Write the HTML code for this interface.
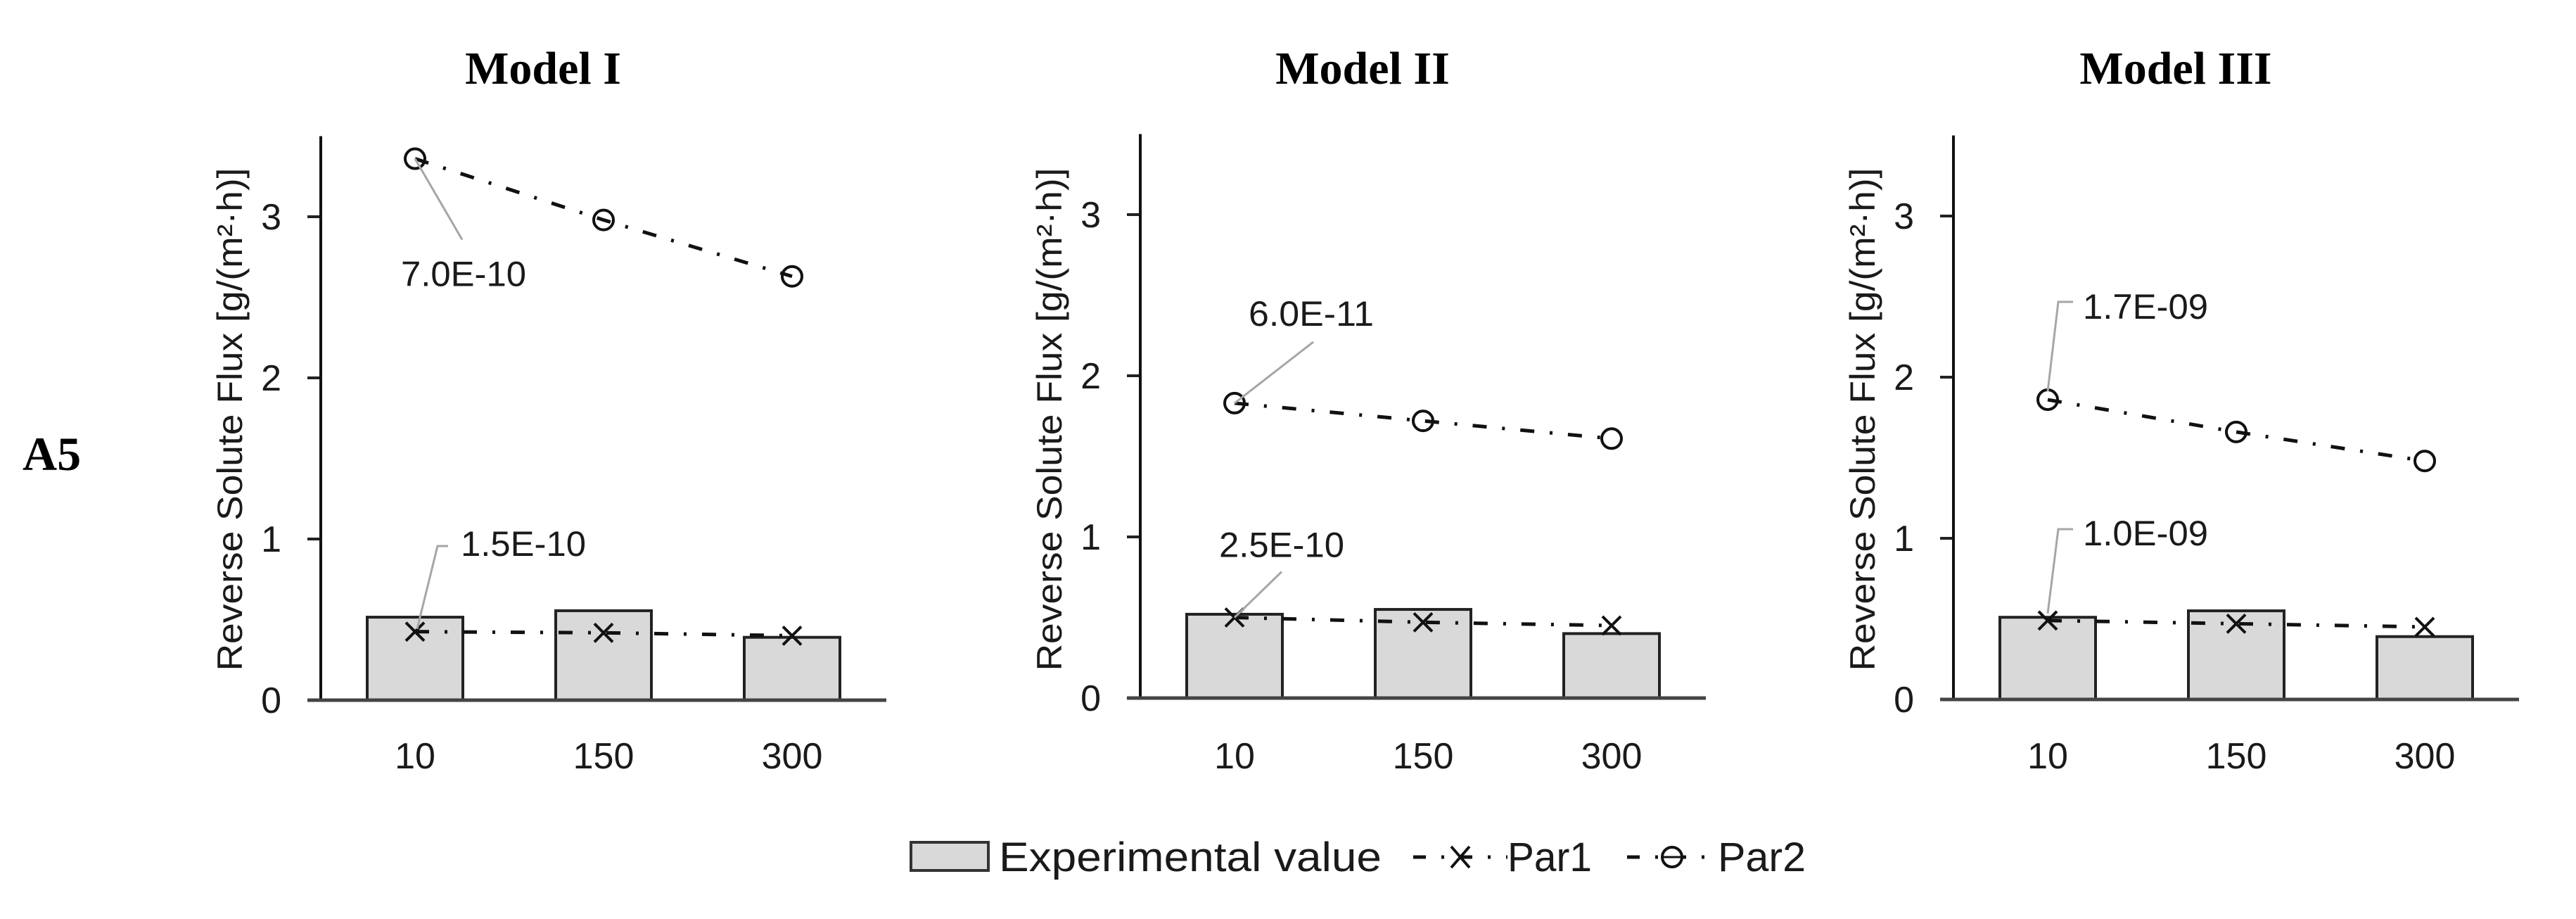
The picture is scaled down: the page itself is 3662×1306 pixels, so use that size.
<!DOCTYPE html>
<html><head><meta charset="utf-8">
<style>
html,body{margin:0;padding:0;background:#fff;}
svg{display:block;}
text{font-family:"Liberation Sans",sans-serif;fill:#1a1a1a;}
.serif{font-family:"Liberation Serif",serif;font-weight:bold;fill:#000;}
</style></head>
<body>
<svg id="chart" width="3662" height="1306" viewBox="0 0 3662 1306" xmlns="http://www.w3.org/2000/svg">
  <text class="serif" x="32" y="668" font-size="68">A5</text>
  <g id="panels"></g>
  <g>
    <rect x="1295" y="1197" width="110" height="40" fill="#d9d9d9" stroke="#333" stroke-width="4"/>
    <text x="1420" y="1238" font-size="58" textLength="544" lengthAdjust="spacingAndGlyphs">Experimental value</text>
    <line x1="2009" y1="1218" x2="2143" y2="1218" stroke="#111" stroke-width="5" stroke-dasharray="18,22,4,22"/>
    <path d="M2063,1203 L2089,1233 M2089,1203 L2063,1233" stroke="#111" stroke-width="4"/>
    <text x="2143" y="1238" font-size="58" textLength="120" lengthAdjust="spacingAndGlyphs">Par1</text>
    <line x1="2313" y1="1218" x2="2442" y2="1218" stroke="#111" stroke-width="5" stroke-dasharray="18,22,4,22"/>
    <circle cx="2377" cy="1218" r="14" fill="#fff" stroke="#111" stroke-width="4"/>
    <line x1="2363" y1="1218" x2="2391" y2="1218" stroke="#111" stroke-width="3"/>
    <text x="2442" y="1238" font-size="58" textLength="125" lengthAdjust="spacingAndGlyphs">Par2</text>
  </g>
</svg>
<script>
const categories = ["10", "150", "300"];
const yTicks = [0, 1, 2, 3];
const modelTitles = ["Model I", "Model II", "Model III"];
const expValues = [[0.515, 0.555, 0.39], [0.52, 0.55, 0.40], [0.51, 0.55, 0.39]];
const par1Values = [[0.425, 0.418, 0.40], [0.50, 0.47, 0.45], [0.49, 0.47, 0.45]];
const par2Values = [[3.36, 2.98, 2.63], [1.83, 1.72, 1.61], [1.86, 1.66, 1.48]];
const par1Labels = ["1.5E-10", "2.5E-10", "1.0E-09"];
const par2Labels = ["7.0E-10", "6.0E-11", "1.7E-09"];

const NS = "http://www.w3.org/2000/svg";
const root = document.getElementById("panels");
const axisXs = [456, 1621, 2777];
const baseYs = [995, 992, 994];
const unit = 229, yMax = 3.5, catStep = 268, catOff = 134, barW = 136, axisLen = 804;

function mk(tag, attrs, parent, txt) {
  const e = document.createElementNS(NS, tag);
  for (const k in attrs) e.setAttribute(k, attrs[k]);
  if (txt !== undefined) e.textContent = txt;
  parent.appendChild(e);
  return e;
}

for (let p = 0; p < 3; p++) {
  const ax = axisXs[p], by = baseYs[p];
  const y = v => by - v * unit;
  const x = i => ax + catOff + i * catStep;
  const g = mk("g", {}, root);
  
  

  const t = mk("text", {x: ax + 316, y: 119, "font-size": 66, "text-anchor": "middle", class: "serif"}, g, modelTitles[p]);
  
  

  const yl = mk("text", {x: 0, y: 0, "font-size": 50, "text-anchor": "middle", transform: `translate(${ax - 112},${596}) rotate(-90)`, textLength: 715, lengthAdjust: "spacingAndGlyphs"}, g, "Reverse Solute Flux [g/(m²·h)]");
  
  

  yTicks.forEach(v => {
    const tl = mk("line", {x1: ax - 19, y1: y(v), x2: ax, y2: y(v), stroke: "#222", "stroke-width": 4}, g);
    
    
    const tx = mk("text", {x: ax - 56, y: y(v) + 18, "font-size": 52, "text-anchor": "end"}, g, String(v));
    
    
  });

  categories.forEach((c, i) => {
    const b = mk("rect", {x: x(i) - barW / 2, y: y(expValues[p][i]), width: barW, height: expValues[p][i] * unit, fill: "#d9d9d9", stroke: "#222", "stroke-width": 4}, g);
    
    
    const xl = mk("text", {x: x(i), y: 1092, "font-size": 52, "text-anchor": "middle"}, g, c);
    
    
  });

  const ya = mk("line", {x1: ax, y1: by - yMax * unit, x2: ax, y2: by, stroke: "#111", "stroke-width": 4}, g);
  
  
  const xa = mk("line", {x1: ax - 19, y1: by, x2: ax + axisLen, y2: by, stroke: "#444", "stroke-width": 5}, g);
  
  

  [par1Values[p], par2Values[p]].forEach((vals, s) => {
    const pts = vals.map((v, i) => x(i) + "," + y(v)).join(" ");
    const pl = mk("polyline", {points: pts, fill: "none", stroke: "#111", "stroke-width": 5, "stroke-dasharray": "20,22,4,22"}, g);
    
    
    vals.forEach((v, i) => {
      let m;
      if (s === 0) {
        const cx = x(i), cy = y(v);
        m = mk("path", {d: `M${cx-13},${cy-13}L${cx+13},${cy+13}M${cx+13},${cy-13}L${cx-13},${cy+13}`, stroke: "#111", "stroke-width": 4}, g);
        
      } else {
        m = mk("circle", {cx: x(i), cy: y(v), r: 14, fill: "none", stroke: "#111", "stroke-width": 4}, g);
        
      }
      
    });
  });

  // data labels with leader lines
  const x0 = x(0);
  const p1y = y(par1Values[p][0]), p2y = y(par2Values[p][0]);
  let l1, l2, t1, t2;
  if (p === 0) {
    l2 = `M${x0},${p2y} L${x0 + 67},${p2y + 115}`;
    t2 = [x0 - 20, p2y + 181];
    l1 = `M${x0 + 3},${p1y - 4} L${x0 + 32},${776} L${x0 + 47},${776}`;
    t1 = [x0 + 65, 790];
  } else if (p === 1) {
    l2 = `M${x0},${p2y} L${x0 + 112},${p2y - 87}`;
    t2 = [x0 + 20, p2y - 110];
    l1 = `M${x0},${p1y} L${x0 + 67},${p1y - 65}`;
    t1 = [x0 - 22, p1y - 86];
  } else {
    l2 = `M${x0},${p2y - 12} L${x0 + 15},${429} L${x0 + 36},${429}`;
    t2 = [x0 + 50, 453];
    l1 = `M${x0},${p1y - 10} L${x0 + 15},${752} L${x0 + 36},${752}`;
    t1 = [x0 + 50, 775];
  }
  [[l1, t1, par1Labels[p], 'par1'], [l2, t2, par2Labels[p], 'par2']].forEach(([d, tp, txt, nm]) => {
    const ll = mk("path", {d: d, fill: "none", stroke: "#a6a6a6", "stroke-width": 3}, g);
    
    
    const lt = mk("text", {x: tp[0], y: tp[1], "font-size": 50, textLength: 178, lengthAdjust: "spacingAndGlyphs"}, g, txt);
    
    
  });
}
</script>
</body></html>
